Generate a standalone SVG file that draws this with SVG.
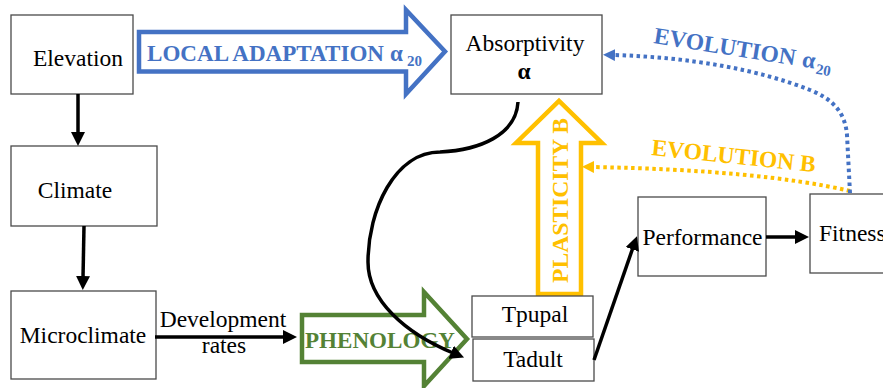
<svg xmlns="http://www.w3.org/2000/svg" width="883" height="388" viewBox="0 0 883 388">
<style>
.box{fill:#fff;stroke:#4a4a4a;stroke-width:1.3}
text{font-family:'Liberation Serif','DejaVu Serif',serif}
.t{font-size:23.5px;fill:#000}
.b{font-weight:bold}
.blk{fill:none;stroke:#000;stroke-width:3.5}
.dot{fill:none;stroke-width:4;stroke-dasharray:3.5 3.5}
</style>
<defs>
<marker id="ah" viewBox="0 0 14 14" markerWidth="14" markerHeight="14" markerUnits="userSpaceOnUse" refX="2" refY="7" orient="auto"><path d="M0,0 L14,7 L0,14 z" fill="#000"/></marker>
<marker id="ahb" viewBox="0 0 12 12" markerWidth="12" markerHeight="12" markerUnits="userSpaceOnUse" refX="2" refY="6" orient="auto"><path d="M0,0 L12,6 L0,12 z" fill="#4472C4"/></marker>
<marker id="ahy" viewBox="0 0 12 12" markerWidth="12" markerHeight="12" markerUnits="userSpaceOnUse" refX="2" refY="6" orient="auto"><path d="M0,0 L12,6 L0,12 z" fill="#FFC000"/></marker>
</defs>
<rect width="883" height="388" fill="#fff"/>

<g id="elevation"><rect class="box" x="11" y="15" width="122" height="79"/><text class="t" font-family="Liberation Serif, serif" x="78" y="66" text-anchor="middle">Elevation</text></g>
<g id="climate"><rect class="box" x="11" y="146" width="146" height="80"/><text class="t" x="75" y="198" text-anchor="middle">Climate</text></g>
<g id="microclimate"><rect class="box" x="11" y="291" width="145" height="88"/><text class="t" x="83" y="343" text-anchor="middle">Microclimate</text></g>
<g id="absorptivity"><rect class="box" x="451" y="15" width="151" height="79"/><text class="t" x="525" y="51" text-anchor="middle">Absorptivity</text><text class="t b" x="524" y="79" text-anchor="middle">α</text></g>
<g id="performance"><rect class="box" x="638" y="197" width="128" height="79"/><text class="t" x="702.5" y="245" text-anchor="middle">Performance</text></g>
<g id="fitness"><rect class="box" x="810" y="194" width="90" height="79"/><text class="t" x="819" y="241">Fitness</text></g>

<g id="local-adaptation">
<polygon points="139,32 406,32 406,10 445,51.5 406,94 406,71.5 139,71.5" fill="#fff" stroke="#4472C4" stroke-width="4.5" stroke-linejoin="miter"/>
<text class="b" x="147" y="61" font-size="23" fill="#4472C4" textLength="237" lengthAdjust="spacingAndGlyphs">LOCAL ADAPTATION</text>
<text class="b" x="390" y="61" font-size="23" fill="#4472C4">α</text>
<text class="b" x="407" y="66" font-size="15" fill="#4472C4">20</text>
</g>

<g id="plasticity">
<polygon points="538,294 538,143 516,143 559,101 602,143 581,143 581,294" fill="#fff" stroke="#FFC000" stroke-width="4.5"/>
<text class="b" transform="translate(568,283) rotate(-90)" font-size="23.5" fill="#FFC000" textLength="165" lengthAdjust="spacingAndGlyphs">PLASTICITY B</text>
</g>

<g id="phenology">
<polygon points="302,315 424,315 424,292 467,339 424,386 424,362 302,362" fill="#fff" stroke="#548235" stroke-width="4.5"/>
<text class="b" x="305" y="348" font-size="23" fill="#548235" textLength="150" lengthAdjust="spacingAndGlyphs">PHENOLOGY</text>
</g>

<g id="tpupal"><rect class="box" x="472" y="296" width="121" height="41"/><text class="t" x="535" y="322" text-anchor="middle">Tpupal</text></g>
<g id="tadult"><rect class="box" x="473" y="339" width="121" height="42"/><text class="t" x="533" y="367" text-anchor="middle">Tadult</text></g>

<g id="labels">
<text class="t" x="223" y="327" text-anchor="middle">Development</text>
<text class="t" x="224" y="353" text-anchor="middle">rates</text>
<g transform="translate(653,43) rotate(9)">
<text class="b" x="0" y="0" font-size="23.5" fill="#4472C4">EVOLUTION</text>
<text class="b" x="150" y="0" font-size="23.5" fill="#4472C4">α</text>
<text class="b" x="165" y="5" font-size="15" fill="#4472C4">20</text>
</g>
<text class="b" transform="translate(651,155) rotate(6)" font-size="23.5" fill="#FFC000">EVOLUTION B</text>
</g>

<g id="connectors">
<path class="blk" d="M78,94 L78,134" marker-end="url(#ah)"/>
<path class="blk" d="M84,226 L83,278" marker-end="url(#ah)"/>
<path class="blk" d="M155,337 L285,337" marker-end="url(#ah)"/>
<path class="blk" d="M518,102 C516,135 480,150 440,152 C395,152 368,210 368,262 C368,300 405,333 453,353" marker-end="url(#ah)"/>
<path class="blk" d="M594,360 L633,247.5" marker-end="url(#ah)"/>
<path class="blk" d="M766,237 L797,237" marker-end="url(#ah)"/>
<path class="dot" stroke="#FFC000" d="M850,191 Q760,170 592,167" marker-end="url(#ahy)"/>
<path class="dot" stroke="#4472C4" d="M850,193 L847,135 C845,110 830,98 810,90 C760,70 690,57 613,55" marker-end="url(#ahb)"/>
</g>
</svg>
